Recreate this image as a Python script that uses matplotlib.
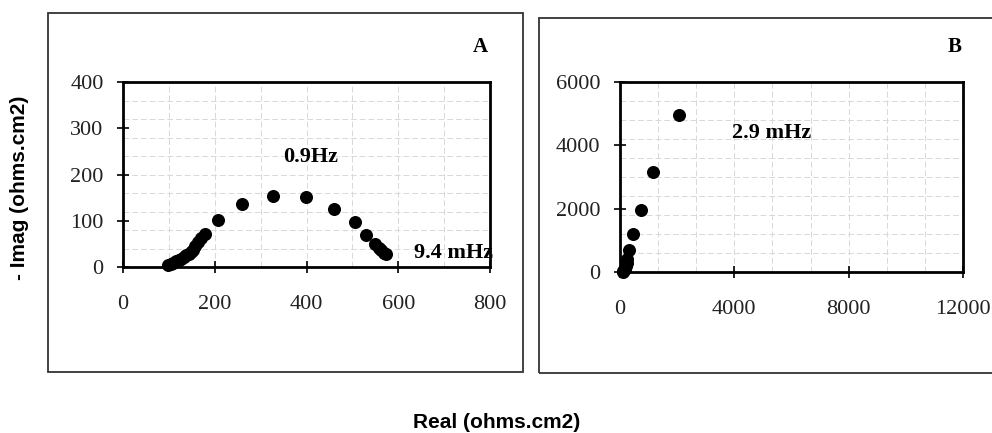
import numpy as np
import matplotlib
matplotlib.use("Agg")
import matplotlib.pyplot as plt
from matplotlib.patches import Rectangle

# panel A data (Nyquist plot)
real_a = [99, 104, 110, 116, 121, 127, 132, 138, 143, 148, 152, 158, 164, 171, 179,
          208, 259, 327, 399, 461, 505, 530, 550, 558, 563, 568, 574]
imag_a = [4, 6, 9, 12, 15, 18, 21, 25, 28, 32, 37, 45, 55, 63, 72,
          102, 137, 154, 152, 126, 98, 70, 50, 42, 36, 31, 28]

# panel B data
real_b = [100, 120, 140, 170, 200, 230, 260, 300, 440, 720, 1170, 2080]
imag_b = [0, 20, 50, 100, 180, 300, 420, 700, 1200, 1950, 3150, 4950]

xticks_a = [0, 200, 400, 600, 800]
yticks_a = [0, 100, 200, 300, 400]
xticks_b = [0, 4000, 8000, 12000]
yticks_b = [0, 2000, 4000, 6000]

W, H = 992, 433
fig = plt.figure(figsize=(W / 100, H / 100), dpi=100)
serif = "Liberation Serif"
sans = "Liberation Sans"


def px_axes(l, t, r, b):
    return fig.add_axes([l / W, 1 - b / H, (r - l) / W, (b - t) / H])


def style(ax, xt, yt, xgrid, ygrid):
    ax.set_xlim(xt[0], xt[-1])
    ax.set_ylim(yt[0], yt[-1])
    ax.set_xticks(xt)
    ax.set_yticks(yt)
    for g in xgrid:
        ax.axvline(g, color="#d8d8d8", lw=0.7, ls=(0, (6, 3)), zorder=0)
    for g in ygrid:
        ax.axhline(g, color="#d8d8d8", lw=0.7, ls=(0, (6, 3)), zorder=0)
    for s in ax.spines.values():
        s.set_linewidth(2.0)
    ax.tick_params(direction="inout", length=8, width=1.2)
    ax.tick_params(axis="x", pad=16)
    ax.tick_params(axis="y", pad=10)
    for lab in ax.get_xticklabels() + ax.get_yticklabels():
        lab.set_fontfamily(serif)
        lab.set_fontsize(16)
        lab.set_color("#222222")


# outer frames
fig.patches.append(Rectangle((48 / W, 1 - 372 / H), (523 - 48) / W, (372 - 13) / H,
                             transform=fig.transFigure, fill=False, lw=1.3, ec="#333333"))
fig.patches.append(Rectangle((539 / W, 1 - 373 / H), (1000 - 539) / W, (373 - 18) / H,
                             transform=fig.transFigure, fill=False, lw=1.3, ec="#333333",
                             clip_on=False))

ax1 = px_axes(123, 82, 490, 267)
style(ax1, xticks_a, yticks_a, np.arange(100, 800, 100), np.arange(40, 400, 40))
ax1.scatter(real_a, imag_a, s=70, color="black", zorder=3, clip_on=False)
ax1.text(408, 237, "0.9Hz", fontfamily=serif, fontweight="bold", fontsize=16,
         ha="center", va="center")
ax1.text(720, 30, "9.4 mHz", fontfamily=serif, fontweight="bold", fontsize=16,
         ha="center", va="center", clip_on=False)

ax2 = px_axes(620, 82, 963, 272)
style(ax2, xticks_b, yticks_b, np.arange(4000 / 3, 12000, 4000 / 3), np.arange(600, 6000, 600))
ax2.scatter(real_b, imag_b, s=70, color="black", zorder=3, clip_on=False)
ax2.text(5300, 4380, "2.9 mHz", fontfamily=serif, fontweight="bold", fontsize=16,
         ha="center", va="center")

fig.text(480 / W, 1 - 47 / H, "A", fontfamily=serif, fontweight="bold", fontsize=15,
         ha="center", va="center")
fig.text(955 / W, 1 - 47 / H, "B", fontfamily=serif, fontweight="bold", fontsize=15,
         ha="center", va="center")

fig.text(497 / W, 1 - 423 / H, "Real (ohms.cm2)", fontfamily=sans, fontweight="bold",
         fontsize=15, ha="center", va="center")
fig.text(20 / W, 1 - 188 / H, "- Imag (ohms.cm2)", fontfamily=sans, fontweight="bold",
         fontsize=15, ha="center", va="center", rotation=90)

fig.savefig("out.png", dpi=100)
